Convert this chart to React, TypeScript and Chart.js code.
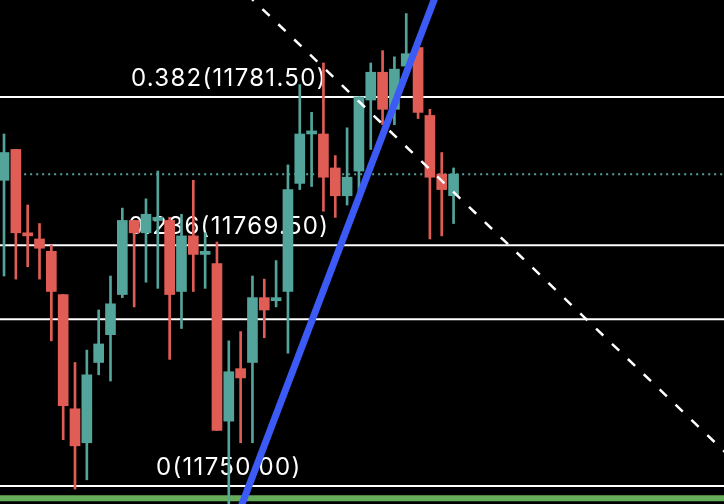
import React, { useEffect, useRef } from 'react'
import { Chart, registerables } from 'chart.js'

Chart.register(...registerables)

// candles, one per bar index
const opens = [
  11774.75, 11777.25, 11770.5, 11770.0, 11769.0, 11765.5, 11756.25, 11753.5, 11760.0, 11762.25,
  11765.5, 11771.5, 11770.5, 11771.5, 11771.5, 11765.75, 11770.25, 11768.75, 11768.0, 11755.25,
  11759.5, 11760.0, 11765.25, 11765.0, 11765.75, 11774.5, 11778.5, 11778.5, 11775.75, 11773.5,
  11775.5, 11781.25, 11783.5, 11780.5, 11784.0, 11785.5, 11780.0, 11775.25, 11773.5,
]
const highs = [
  11778.5, 11777.25, 11772.75, 11771.25, 11769.5, 11765.5, 11760.0, 11761.0, 11764.25, 11767.0,
  11772.5, 11771.5, 11773.25, 11775.5, 11771.75, 11772.0, 11774.75, 11770.5, 11769.75, 11761.75,
  11762.5, 11767.0, 11766.75, 11768.25, 11776.0, 11782.5, 11780.25, 11784.25, 11776.75, 11779.0,
  11781.5, 11784.25, 11785.25, 11784.75, 11788.25, 11785.75, 11780.5, 11777.0, 11775.75,
]
const lows = [
  11767.0, 11766.75, 11767.75, 11766.75, 11761.75, 11753.75, 11749.75, 11750.5, 11759.0, 11758.5,
  11765.25, 11764.5, 11766.5, 11766.0, 11760.25, 11762.75, 11765.75, 11766.0, 11754.5, 11748.0,
  11753.5, 11753.5, 11762.0, 11764.5, 11760.75, 11774.0, 11774.25, 11772.25, 11771.75, 11772.75,
  11773.75, 11777.25, 11779.25, 11779.25, 11783.0, 11779.75, 11770.0, 11770.25, 11771.25,
]
const closes = [
  11777.0, 11770.5, 11770.25, 11769.25, 11765.75, 11756.5, 11753.25, 11759.0, 11761.5, 11764.75,
  11771.5, 11770.5, 11772.0, 11771.75, 11765.5, 11770.25, 11768.75, 11769.0, 11754.5, 11759.25,
  11758.75, 11765.25, 11764.25, 11765.25, 11774.0, 11778.5, 11778.75, 11775.0, 11773.5, 11775.0,
  11781.5, 11783.5, 11780.5, 11783.75, 11785.0, 11780.25, 11775.0, 11774.0, 11775.25,
]

const fibLevels = [11781.5, 11769.5, 11750.0]
const fibLabels = ['0.382(11781.50)', '0.236(11769.50)', '0(11750.00)']
const extraLevels = [11763.5]
const lastPrice = 11775.25
const greenLevel = 11749.0
const labelBar = 19

// drawn lines, as [bar index, price] end points
const trendLine = [
  { x: 19.905, y: 11748.0 },
  { x: 36.61, y: 11790.0 },
]
const dashLine = [
  { x: 20.5, y: 11789.85 },
  { x: 62, y: 11751.78 },
]

const X_MIN = -0.34
const X_MAX = 60.86
const Y_MIN = 11748.54
const Y_MAX = 11789.35

const UP = '#53a59b'
const DOWN = '#e05d56'

const flat = (price: number) => [
  { x: X_MIN - 1, y: price },
  { x: X_MAX + 1, y: price },
]

const fibText = {
  id: 'fibText',
  beforeDraw(chart: any) {
    const { ctx, width, height } = chart
    ctx.save()
    ctx.fillStyle = '#000'
    ctx.fillRect(0, 0, width, height)
    ctx.restore()
  },
  beforeDatasetsDraw(chart: any) {
    const { ctx, scales } = chart
    ctx.save()
    ctx.font = '24px Inter'
    ctx.letterSpacing = '1.3px'
    ctx.fillStyle = '#ffffff'
    ctx.textAlign = 'center'
    ctx.textBaseline = 'alphabetic'
    fibLevels.forEach((lvl, k) => {
      ctx.fillText(fibLabels[k], scales.x.getPixelForValue(labelBar), scales.y.getPixelForValue(lvl) - 11)
    })
    ctx.restore()
  },
}

export default function App() {
  const canvasRef = useRef<HTMLCanvasElement>(null)

  useEffect(() => {
    const idx = opens.map((_, i) => i)
    const colors = idx.map(i => (closes[i] >= opens[i] ? UP : DOWN))

    const lineBase = { type: 'line' as const, pointRadius: 0, fill: false, tension: 0 }

    const chart = new Chart(canvasRef.current!, {
      type: 'bar',
      data: {
        datasets: [
          ...fibLevels.concat(extraLevels).map(lvl => ({
            ...lineBase,
            data: flat(lvl),
            borderColor: '#ffffff',
            borderWidth: 2,
            order: 10,
          })),
          {
            ...lineBase,
            data: flat(lastPrice),
            borderColor: UP,
            borderWidth: 2,
            borderDash: [2, 4],
            order: 10,
          },
          {
            ...lineBase,
            data: flat(greenLevel),
            borderColor: '#66ad5a',
            borderWidth: 6,
            order: 10,
          },
          {
            type: 'bar',
            data: idx.map(i => ({ x: i, y: [lows[i], highs[i]] })),
            backgroundColor: colors,
            barThickness: 2,
            grouped: false,
            order: 5,
          },
          {
            type: 'bar',
            data: idx.map(i => ({ x: i, y: [opens[i], closes[i]] })),
            backgroundColor: colors,
            barThickness: 10,
            minBarLength: 2,
            grouped: false,
            order: 4,
          },
          {
            ...lineBase,
            data: dashLine,
            borderColor: '#ffffff',
            borderWidth: 2.5,
            borderDash: [10, 12],
            order: 1,
          },
          {
            ...lineBase,
            data: trendLine,
            borderColor: '#3c5af6',
            borderWidth: 7,
            order: 0,
          },
        ] as any,
      },
      options: {
        responsive: false,
        animation: false,
        layout: { padding: 0 },
        scales: {
          x: { type: 'linear', min: X_MIN, max: X_MAX, offset: false, display: false },
          y: { type: 'linear', min: Y_MIN, max: Y_MAX, display: false },
        },
        plugins: {
          legend: { display: false },
          tooltip: { enabled: false },
        },
      },
      plugins: [fibText],
    })

    return () => {
      chart.destroy()
    }
  }, [])

  return (
    <div style={{ position: 'absolute', left: 0, top: 0, width: 724, height: 504, background: '#000' }}>
      <canvas ref={canvasRef} width={724} height={504}></canvas>
    </div>
  )
}
